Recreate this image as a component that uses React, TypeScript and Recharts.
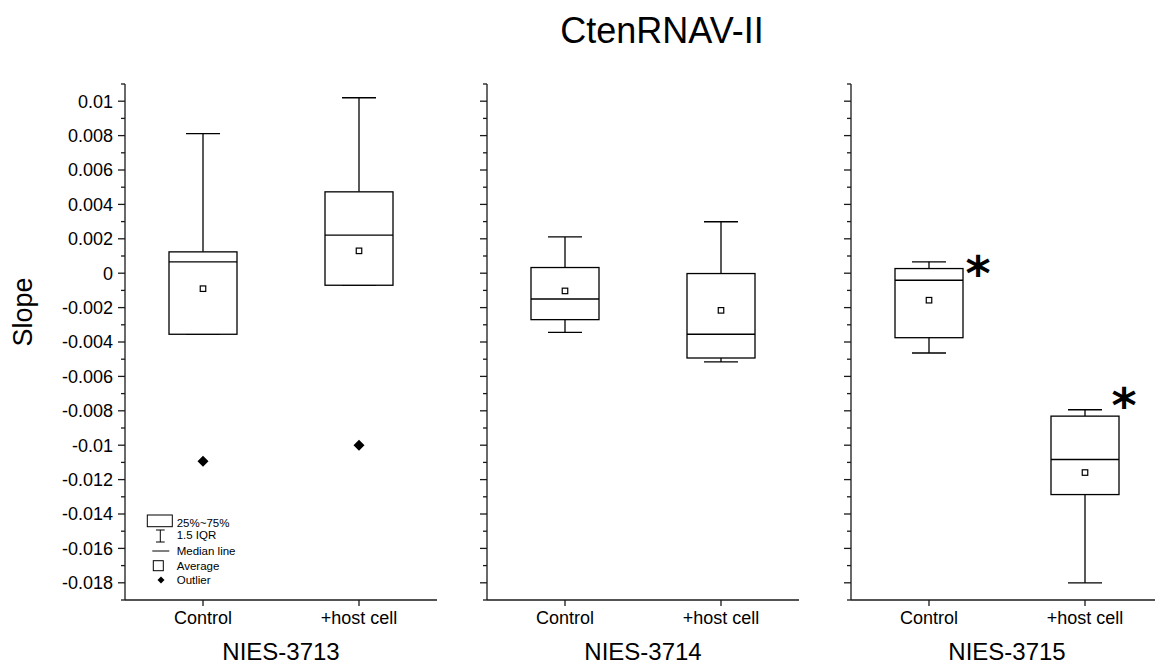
import React from 'react';
import { ComposedChart, Bar, Scatter, XAxis, YAxis, Legend } from 'recharts';

const chartTitle = 'CtenRNAV-II';
const yAxisTitle = 'Slope';
const groupNames = ['NIES-3713', 'NIES-3714', 'NIES-3715'];
const categories = ['Control', '+host cell'];

// per group: [Control, +host cell]
const whiskerMax = [[0.00812, 0.0102], [0.00211, 0.00299], [0.00066, -0.00794]];
const q3Values = [[0.00124, 0.00473], [0.00033, -0.00002], [0.00027, -0.00831]];
const medianValues = [[0.00066, 0.00221], [-0.0015, -0.00355], [-0.00041, -0.01083]];
const meanValues = [[-0.0009, 0.0013], [-0.00103, -0.00216], [-0.00157, -0.01159]];
const q1Values = [[-0.00355, -0.0007], [-0.0027, -0.00493], [-0.00375, -0.01287]];
const whiskerMin = [[-0.00355, -0.0007], [-0.00344, -0.00516], [-0.00464, -0.018]];
const outlierValues = [[-0.01093, -0.01], [null, null], [null, null]];
const significanceMarks = [[null, null], [null, null], ['*', '*']];
const significanceLevels = [[null, null], [null, null], [0.00066, -0.00703]];

const yDomain = [-0.019, 0.011];
const yMajorTicks = [-0.018, -0.016, -0.014, -0.012, -0.01, -0.008, -0.006, -0.004, -0.002, 0, 0.002, 0.004, 0.006, 0.008, 0.01];
const yMinorTicks = [-0.019, -0.017, -0.015, -0.013, -0.011, -0.009, -0.007, -0.005, -0.003, -0.001, 0.001, 0.003, 0.005, 0.007, 0.009, 0.011];
const legendLabels = ['25%~75%', '1.5 IQR', 'Median line', 'Average', 'Outlier'];

const FONT = '"Liberation Sans", Arial, Helvetica, sans-serif';
const STAR_FONT = '"DejaVu Sans", sans-serif';
const AXIS_COLOR = '#1a1a1a';
const starOffsetX = [49, 39];

const allTicks = [...yMajorTicks, ...yMinorTicks].sort((a, b) => a - b);

function buildRows(g: number) {
  return categories.map((cat, i) => ({
    cat,
    range: [whiskerMin[g][i], whiskerMax[g][i]],
    min: whiskerMin[g][i],
    q1: q1Values[g][i],
    median: medianValues[g][i],
    q3: q3Values[g][i],
    max: whiskerMax[g][i],
    mean: meanValues[g][i],
    outlier: outlierValues[g][i],
    sig: significanceLevels[g][i],
    sigText: significanceMarks[g][i],
    idx: i,
  }));
}

const BoxShape = (props: any) => {
  const { x, y, width, height, payload } = props;
  if (!payload || !isFinite(y) || !isFinite(height)) return <g />;
  const top = Math.min(y, y + height);
  const bot = Math.max(y, y + height);
  const { min, max, q1, q3, median } = payload;
  const py = (v: number) => top + ((max - v) / (max - min)) * (bot - top);
  const cx = x + width / 2;
  const cap = width / 4;
  return (
    <g stroke="#000" strokeWidth={1.3} fill="none">
      <line x1={cx} x2={cx} y1={py(max)} y2={py(q3)} />
      <line x1={cx} x2={cx} y1={py(q1)} y2={py(min)} />
      <line x1={cx - cap} x2={cx + cap} y1={py(max)} y2={py(max)} />
      <line x1={cx - cap} x2={cx + cap} y1={py(min)} y2={py(min)} />
      <rect x={x} y={py(q3)} width={width} height={py(q1) - py(q3)} fill="#fff" />
      <line x1={x} x2={x + width} y1={py(median)} y2={py(median)} />
    </g>
  );
};

const MeanShape = (props: any) => {
  const { cx, cy } = props;
  if (!isFinite(cx) || !isFinite(cy)) return <g />;
  const s = 5.5;
  return <rect x={cx - s / 2} y={cy - s / 2} width={s} height={s} fill="#fff" stroke="#000" strokeWidth={1.2} />;
};

const OutlierShape = (props: any) => {
  const { cx, cy, payload } = props;
  if (!payload || payload.outlier == null || !isFinite(cy)) return <g />;
  const r = 5.5;
  return <path d={`M${cx},${cy - r}L${cx + r},${cy}L${cx},${cy + r}L${cx - r},${cy}Z`} fill="#000" />;
};

const StarShape = (props: any) => {
  const { cx, cy, payload } = props;
  if (!payload || payload.sig == null || !isFinite(cy)) return <g />;
  const fs = 48;
  return (
    <text x={cx + starOffsetX[payload.idx]} y={cy + fs * 0.58} textAnchor="middle" fontSize={fs} fontWeight="bold" fontFamily={STAR_FONT} fill="#000">
      {payload.sigText}
    </text>
  );
};

const makeYTick = (showLabel: boolean) => (props: any) => {
  const { x, y, payload } = props;
  const v = payload.value;
  const major = yMajorTicks.some((t) => Math.abs(t - v) < 1e-9);
  return (
    <g>
      <line x1={x - (major ? 7 : 4)} x2={x} y1={y} y2={y} stroke={AXIS_COLOR} strokeWidth={1.3} />
      {showLabel && major && (
        <text x={x - 12} y={y + 6.4} textAnchor="end" fontSize={18} fontFamily={FONT} fill="#000">
          {String(v)}
        </text>
      )}
    </g>
  );
};

const SlopeLabel = (props: any) => {
  const vb = props.viewBox || { x: 0, y: 84, height: 516 };
  const cx = vb.x + 32;
  const cy = vb.y + vb.height / 2 - 30;
  return (
    <text x={cx} y={cy} transform={`rotate(-90 ${cx} ${cy})`} textAnchor="middle" fontSize={27} fontFamily={FONT} fill="#000">
      {yAxisTitle}
    </text>
  );
};

const LegendContent = () => (
  <svg width={130} height={80} style={{ display: 'block', overflow: 'visible' }}>
    <g stroke="#000" strokeWidth={1} fill="none">
      <rect x={7.3} y={5} width={25} height={11.7} fill="#fff" />
      <line x1={20.3} x2={20.3} y1={20} y2={32} />
      <line x1={16} x2={24.7} y1={20} y2={20} />
      <line x1={16} x2={24.7} y1={32} y2={32} />
      <line x1={12.3} x2={29.3} y1={41} y2={41} />
      <rect x={13.3} y={50.7} width={10} height={10} fill="#fff" />
    </g>
    <path d="M21,66.5L24.5,70L21,73.5L17.5,70Z" fill="#000" />
    {legendLabels.map((t, i) => (
      <text key={t} x={36.7} y={[16.7, 29, 45, 60, 74][i]} fontSize={11.5} fontFamily={FONT} fill="#000">
        {t}
      </text>
    ))}
  </svg>
);

const panels = [
  { left: 0, width: 440, yWidth: 125, right: 3, labels: true },
  { left: 440, width: 362, yWidth: 47, right: 3, labels: false },
  { left: 802, width: 361, yWidth: 49, right: 0, labels: false },
];

export default function App() {
  return (
    <div style={{ position: 'absolute', left: 0, top: 0, width: 1155, height: 666, overflow: 'hidden', background: '#fff', fontFamily: FONT }}>
      {panels.map((p, g) => (
        <div key={g} style={{ position: 'absolute', left: p.left, top: 0, width: p.width, height: 666 }}>
          <ComposedChart width={p.width} height={666} data={buildRows(g)} margin={{ top: 84, right: p.right, bottom: 0, left: 0 }}>
            <XAxis
              dataKey="cat"
              type="category"
              height={66}
              tickSize={6}
              tickMargin={5}
              tick={{ fontSize: 18, fill: '#000', fontFamily: FONT }}
              axisLine={{ stroke: AXIS_COLOR, strokeWidth: 1.3 }}
              tickLine={{ stroke: AXIS_COLOR, strokeWidth: 1.3 }}
              label={{ value: groupNames[g], position: 'insideBottom', offset: 6, fontSize: 24, fill: '#000', fontFamily: FONT }}
            />
            <YAxis
              type="number"
              domain={yDomain}
              ticks={allTicks}
              interval={0}
              width={p.yWidth}
              tickSize={0}
              tickMargin={0}
              tickLine={false}
              axisLine={{ stroke: AXIS_COLOR, strokeWidth: 1.3 }}
              tick={makeYTick(p.labels)}
              allowDataOverflow
              label={p.labels ? <SlopeLabel /> : undefined}
            />
            <Bar dataKey="range" barSize={68} shape={<BoxShape />} isAnimationActive={false} />
            <Scatter dataKey="mean" shape={<MeanShape />} isAnimationActive={false} />
            <Scatter dataKey="outlier" shape={<OutlierShape />} isAnimationActive={false} />
            <Scatter dataKey="sig" shape={<StarShape />} isAnimationActive={false} />
            {p.labels && (
              <Legend
                layout="vertical"
                align="center"
                verticalAlign="middle"
                content={<LegendContent />}
                wrapperStyle={{ position: 'absolute', left: 140, top: 510, width: 130, height: 80 }}
              />
            )}
          </ComposedChart>
        </div>
      ))}
      <svg width={1155} height={60} style={{ position: 'absolute', left: 0, top: 0, pointerEvents: 'none' }}>
        <text x={662} y={43} textAnchor="middle" fontSize={36} fontFamily={FONT} fill="#000">
          {chartTitle}
        </text>
      </svg>
    </div>
  );
}
